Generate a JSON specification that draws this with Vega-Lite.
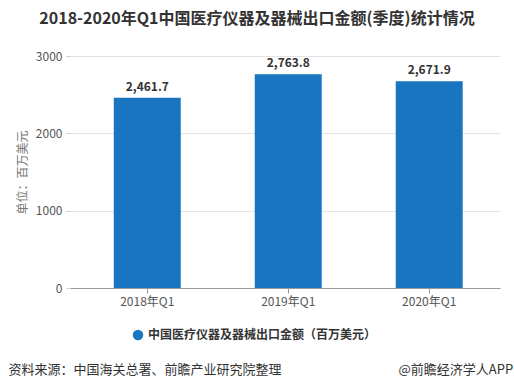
{
  "$schema": "https://vega.github.io/schema/vega-lite/v6.json",
  "autosize": {"type": "none"},
  "width": 430,
  "height": 232,
  "padding": {"left": 70, "top": 56, "right": 14, "bottom": 102},
  "background": "white",
  "config": {"font": "Noto Sans CJK SC", "view": {"stroke": null}},
  "title": {
    "text": "2018-2020年Q1中国医疗仪器及器械出口金额(季度)统计情况",
    "fontSize": 16,
    "fontWeight": "bold",
    "color": "#333333",
    "anchor": "middle",
    "dx": -28,
    "offset": 23
  },
  "data": {
    "values": [
      {"quarter": "2018年Q1", "value": 2461.7, "series": "中国医疗仪器及器械出口金额（百万美元）"},
      {"quarter": "2019年Q1", "value": 2763.8, "series": "中国医疗仪器及器械出口金额（百万美元）"},
      {"quarter": "2020年Q1", "value": 2671.9, "series": "中国医疗仪器及器械出口金额（百万美元）"}
    ]
  },
  "encoding": {
    "x": {
      "field": "quarter",
      "type": "nominal",
      "sort": null,
      "scale": {"paddingInner": 0.525, "paddingOuter": 0.2875, "align": 0.54},
      "axis": {
        "labelAngle": 0,
        "labelFontSize": 12,
        "labelColor": "#555555",
        "labelPadding": 3,
        "tickColor": "#999999",
        "tickSize": 5,
        "domainColor": "#999999",
        "grid": false,
        "title": "资料来源：中国海关总署、前瞻产业研究院整理\u3000\u3000\u3000\u3000\u3000\u3000\u3000\u3000\u3000@前瞻经济学人APP",
        "titleFontSize": 13,
        "titleFontWeight": "normal",
        "titleColor": "#333333",
        "titleAnchor": "start",
        "titleAlign": "left",
        "titleBaseline": "middle",
        "titleX": -62,
        "titleY": 81
      }
    },
    "y": {
      "field": "value",
      "type": "quantitative",
      "scale": {"domain": [0, 3000], "nice": false},
      "axis": {
        "values": [0, 1000, 2000, 3000],
        "format": "d",
        "grid": true,
        "gridColor": "#e3e3e3",
        "domain": false,
        "tickSize": 4,
        "tickColor": "#cccccc",
        "labelFontSize": 12,
        "labelColor": "#555555",
        "labelPadding": 4,
        "title": "单位：百万美元",
        "titleFontSize": 12,
        "titleFontWeight": "normal",
        "titleColor": "#777777",
        "titlePadding": 6
      }
    }
  },
  "layer": [
    {
      "mark": {"type": "bar"},
      "encoding": {
        "color": {
          "field": "series",
          "type": "nominal",
          "scale": {"range": ["#1A75C1"]},
          "legend": {
            "orient": "none",
            "legendX": 62,
            "legendY": 273,
            "title": null,
            "symbolType": "circle",
            "symbolSize": 110,
            "labelFontSize": 12,
            "labelFontWeight": "bold",
            "labelColor": "#333333",
            "labelLimit": 400
          }
        }
      }
    },
    {
      "mark": {"type": "text", "baseline": "bottom", "dy": -4, "fontSize": 12, "fontWeight": "bold", "color": "#333333"},
      "encoding": {
        "text": {"field": "value", "type": "quantitative", "format": ",.1f"}
      }
    }
  ]
}
